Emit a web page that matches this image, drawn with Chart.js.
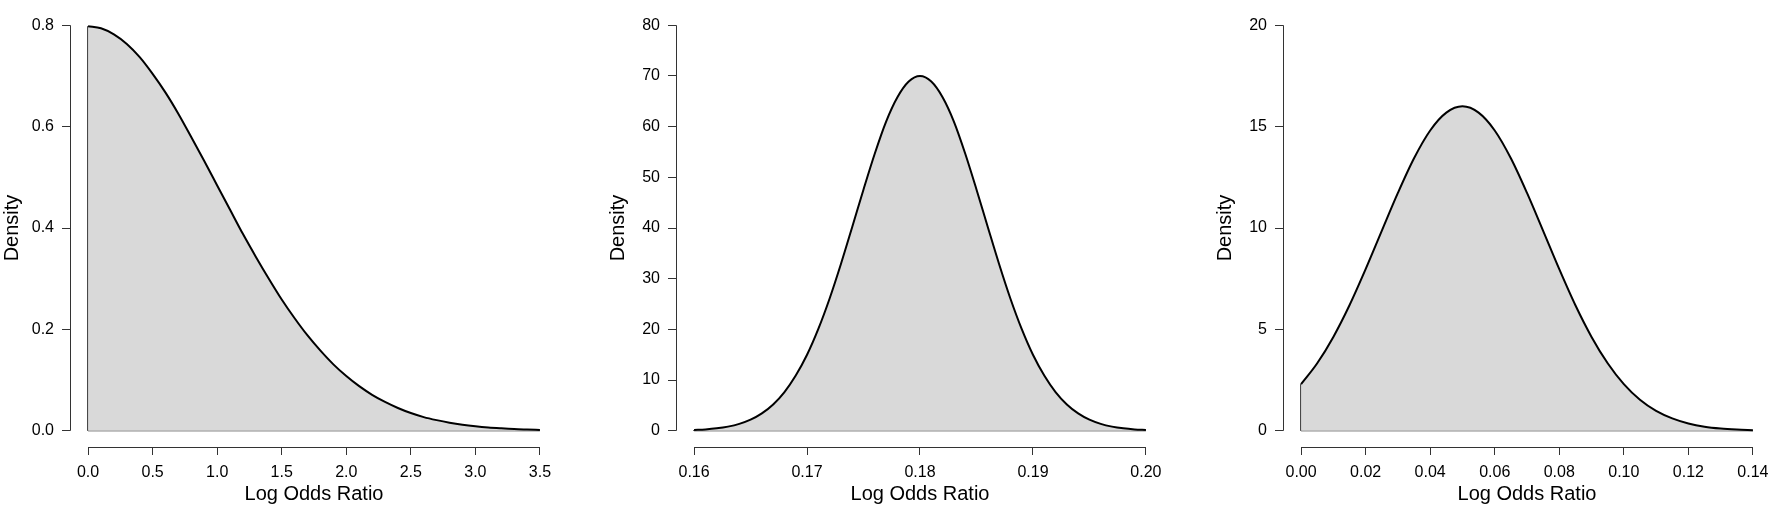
<!DOCTYPE html>
<html>
<head>
<meta charset="utf-8">
<script src="https://cdn.jsdelivr.net/npm/chart.js@4/dist/chart.umd.min.js"></script>
<style>
  html, body { margin: 0; padding: 0; background: #fff; overflow: hidden; width: 1772px; height: 509px; }
  canvas { position: absolute; top: 0; }
</style>
</head>
<body>
<canvas id="c1" width="607" height="509" style="left:0px"></canvas>
<canvas id="c2" width="607" height="509" style="left:606px"></canvas>
<canvas id="c3" width="607" height="509" style="left:1213px"></canvas>
<script>
// panel 1: prior density (half-normal shape)
var p1X = [0, 0.1, 0.2, 0.3, 0.4, 0.5, 0.6, 0.7, 0.8, 0.9, 1.0, 1.1, 1.2, 1.3, 1.4, 1.5, 1.6, 1.7,
  1.8, 1.9, 2.0, 2.1, 2.2, 2.3, 2.4, 2.5, 2.6, 2.7, 2.8, 2.9, 3.0, 3.1, 3.2, 3.3, 3.4, 3.5];
var p1Y = [0.798, 0.794, 0.782, 0.763, 0.737, 0.704, 0.667, 0.625, 0.579, 0.532, 0.484, 0.436,
  0.388, 0.343, 0.300, 0.259, 0.222, 0.188, 0.158, 0.131, 0.108, 0.088, 0.071, 0.057, 0.045,
  0.035, 0.027, 0.021, 0.016, 0.012, 0.0089, 0.0065, 0.0048, 0.0034, 0.0025, 0.0017];
var p1XTicks = ["0.0", "0.5", "1.0", "1.5", "2.0", "2.5", "3.0", "3.5"];
var p1YTicks = ["0.0", "0.2", "0.4", "0.6", "0.8"];

// panel 2
var p2X = [0.160, 0.161, 0.162, 0.163, 0.164, 0.165, 0.166, 0.167, 0.168, 0.169, 0.170, 0.171,
  0.172, 0.173, 0.174, 0.175, 0.176, 0.177, 0.178, 0.179, 0.180, 0.181, 0.182, 0.183, 0.184,
  0.185, 0.186, 0.187, 0.188, 0.189, 0.190, 0.191, 0.192, 0.193, 0.194, 0.195, 0.196, 0.197,
  0.198, 0.199, 0.200];
var p2Y = [0.15, 0.27, 0.48, 0.82, 1.36, 2.19, 3.43, 5.19, 7.64, 10.9, 15.0, 20.1, 26.1, 32.9,
  40.2, 47.6, 54.7, 61.0, 65.8, 68.9, 70.0, 68.9, 65.8, 61.0, 54.7, 47.6, 40.2, 32.9, 26.1,
  20.1, 15.0, 10.9, 7.64, 5.19, 3.43, 2.19, 1.36, 0.82, 0.48, 0.27, 0.15];
var p2XTicks = ["0.16", "0.17", "0.18", "0.19", "0.20"];
var p2YTicks = ["0", "10", "20", "30", "40", "50", "60", "70", "80"];

// panel 3 (truncated at zero)
var p3X = [0.000, 0.005, 0.010, 0.015, 0.020, 0.025, 0.030, 0.035, 0.040, 0.045, 0.050, 0.055,
  0.060, 0.065, 0.070, 0.075, 0.080, 0.085, 0.090, 0.095, 0.100, 0.105, 0.110, 0.115, 0.120,
  0.125, 0.130, 0.135, 0.140];
var p3Y = [2.30, 3.33, 4.63, 6.19, 7.97, 9.86, 11.73, 13.44, 14.81, 15.69, 16.0, 15.69, 14.81,
  13.44, 11.73, 9.86, 7.97, 6.19, 4.63, 3.33, 2.30, 1.53, 0.98, 0.61, 0.36, 0.20, 0.11, 0.06, 0.03];
var p3XTicks = ["0.00", "0.02", "0.04", "0.06", "0.08", "0.10", "0.12", "0.14"];
var p3YTicks = ["0", "5", "10", "15", "20"];

var FONT = "'Liberation Sans', Arial, Helvetica, sans-serif";
var AXIS = "#333";

// R draws the axis line only between first and last tick
var rAxes = {
  id: "rAxes",
  afterDraw: function (chart) {
    var ctx = chart.ctx, a = chart.chartArea;
    var sx = chart.scales.x, sy = chart.scales.y;
    var xt = sx.ticks, yt = sy.ticks;
    var by = Math.floor(a.bottom) + 0.5, lx = Math.floor(a.left) + 0.5;
    ctx.save();
    ctx.strokeStyle = AXIS;
    ctx.lineWidth = 1;
    ctx.beginPath();
    ctx.moveTo(sx.getPixelForValue(xt[0].value), by);
    ctx.lineTo(sx.getPixelForValue(xt[xt.length - 1].value), by);
    ctx.moveTo(lx, sy.getPixelForValue(yt[0].value));
    ctx.lineTo(lx, sy.getPixelForValue(yt[yt.length - 1].value));
    ctx.stroke();
    ctx.restore();
  }
};

function pad4(lo, hi) {
  var d = (hi - lo) * 0.04;
  return [lo - d, hi + d];
}

function makeChart(id, xs, ys, xLabels, yLabels) {
  var xv = xLabels.map(parseFloat), yv = yLabels.map(parseFloat);
  var xr = pad4(xv[0], xv[xv.length - 1]);
  var yr = pad4(yv[0], yv[yv.length - 1]);
  var pts = xs.map(function (x, i) { return { x: x, y: ys[i] }; });
  var n = xs.length - 1;
  var edge = [{ x: xs[0], y: ys[0] }, { x: xs[0], y: 0 }, { x: xs[n], y: 0 }];

  return new Chart(document.getElementById(id), {
    type: "line",
    data: {
      datasets: [{
        data: pts,
        borderColor: "#000",
        borderWidth: 2,
        backgroundColor: "#d9d9d9",
        fill: "origin",
        pointRadius: 0,
        cubicInterpolationMode: "monotone"
      }, {
        data: edge,
        borderColor: "#222",
        borderWidth: 1,
        fill: false,
        pointRadius: 0,
        tension: 0
      }]
    },
    options: {
      responsive: false,
      animation: false,
      events: [],
      layout: { padding: { top: 9, right: 49, left: 0, bottom: 0 } },
      plugins: { legend: { display: false }, tooltip: { enabled: false } },
      scales: {
        x: {
          type: "linear",
          min: xr[0],
          max: xr[1],
          afterBuildTicks: function (s) { s.ticks = xv.map(function (v) { return { value: v }; }); },
          afterFit: function (s) { s.height = 62; s.paddingLeft = 0; s.paddingRight = 0; },
          grid: { drawOnChartArea: false, drawTicks: true, tickLength: 8, color: AXIS, lineWidth: 1 },
          border: { display: false },
          ticks: {
            autoSkip: false, maxRotation: 0, padding: 8, color: "#000",
            font: { family: FONT, size: 16 },
            callback: function (v, i) { return xLabels[i]; }
          },
          title: {
            display: true, text: "Log Odds Ratio", color: "#000",
            font: { family: FONT, size: 20 }, padding: { top: 0, bottom: 3 }
          }
        },
        y: {
          type: "linear",
          min: yr[0],
          max: yr[1],
          afterBuildTicks: function (s) { s.ticks = yv.map(function (v) { return { value: v }; }); },
          afterFit: function (s) { s.width = 70; s.paddingTop = 0; s.paddingBottom = 0; },
          grid: { drawOnChartArea: false, drawTicks: true, tickLength: 8, color: AXIS, lineWidth: 1 },
          border: { display: false },
          ticks: {
            autoSkip: false, padding: 8, color: "#000",
            font: { family: FONT, size: 16 },
            callback: function (v, i) { return yLabels[i]; }
          },
          title: {
            display: true, text: "Density", color: "#000",
            font: { family: FONT, size: 20 }, padding: { top: 0, bottom: 0 }
          }
        }
      }
    },
    plugins: [rAxes]
  });
}

makeChart("c1", p1X, p1Y, p1XTicks, p1YTicks);
makeChart("c2", p2X, p2Y, p2XTicks, p2YTicks);
makeChart("c3", p3X, p3Y, p3XTicks, p3YTicks);
</script>
</body>
</html>
